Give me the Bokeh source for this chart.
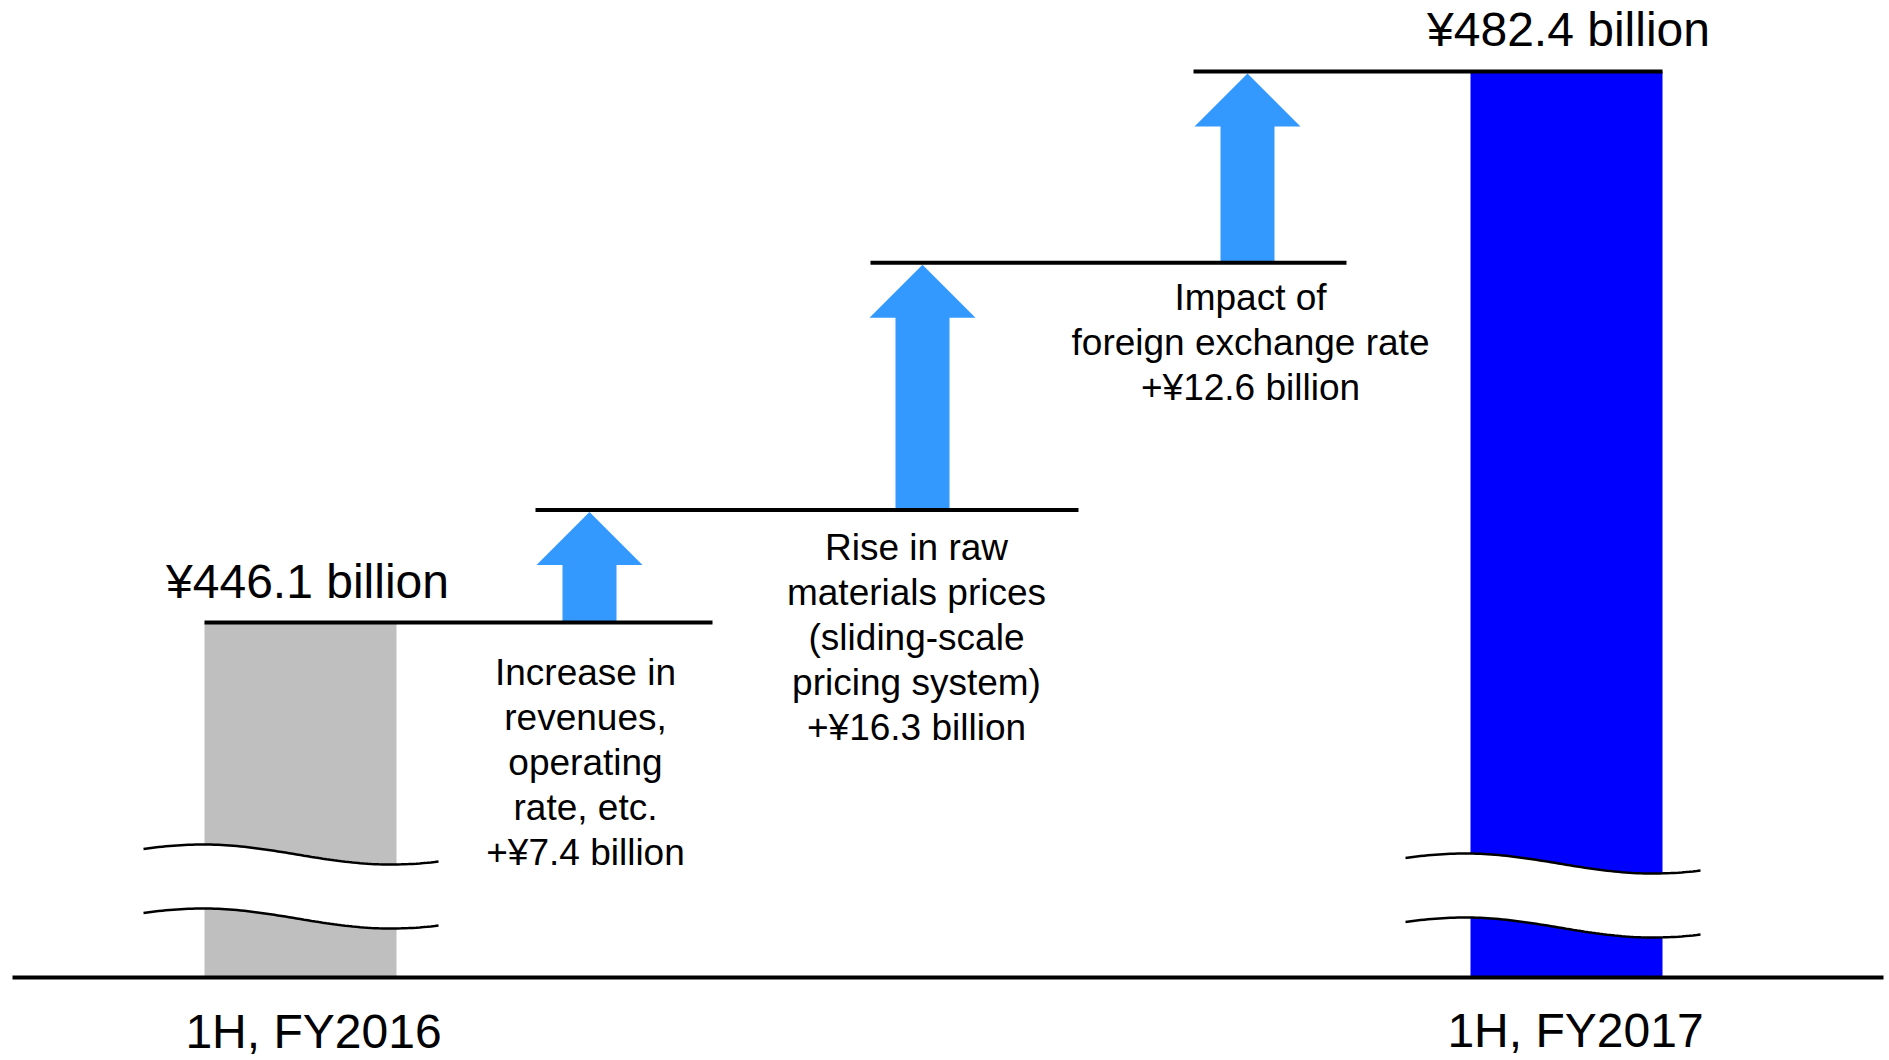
import numpy as np
from bokeh.plotting import figure
from bokeh.models import Range1d
from bokeh.embed import file_html
from bokeh.resources import INLINE
from bokeh.core.properties import value

# ---------------- data ----------------
categories = ["1H, FY2016", "1H, FY2017"]
totals = [446.1, 482.4]
total_labels = ["¥446.1 billion", "¥482.4 billion"]
change_values = [7.4, 16.3, 12.6]
change_labels = [
    ["Increase in", "revenues,", "operating", "rate, etc.", "+¥7.4 billion"],
    ["Rise in raw", "materials prices", "(sliding-scale", "pricing system)", "+¥16.3 billion"],
    ["Impact of", "foreign exchange rate", "+¥12.6 billion"],
]

# ---------------- layout / style ----------------
W, H = 1889, 1060
PPU = 15.18          # pixels per billion yen
BASE = 422.71        # value at the (broken) baseline
BASE_PX = 977        # baseline pixel row from top
FONT = "Liberation Sans"

bar_x = [300, 1566]
bar_w = 192
bar_colors = ["#BFBFBF", "#0000FF"]
total_label_x = [307, 1568]
total_label_gap = [41, 42]
cat_label_x = [313, 1575]
cat_label_gap = [54, 53]   # px below the baseline

arrow_x = [589, 922, 1247]
head_half, shaft_half, head_h = 53, 27, 53
arrow_color = "#3399FF"
text_x = [585, 916, 1250]
text_first_gap = [50, 37, 35]
text_line_h = 45

step_x0 = [204, 535, 870, 1193]
step_x1 = [712, 1078, 1346, 1662]

breaks = [  # x0, x1, mid heights (px above baseline) of the two wavy lines
    (143, 438, 123, 59),
    (1405, 1700, 114, 50),
]


def px(n):
    return n / PPU


levels = [totals[0]]
for c in change_values:
    levels.append(round(levels[-1] + c, 1))

p = figure(width=W, height=H, output_backend="svg", toolbar_location=None,
           x_range=Range1d(0, W),
           y_range=Range1d(BASE - px(H - BASE_PX), BASE + px(BASE_PX)),
           min_border=0, outline_line_color=None,
           x_axis_location=None, y_axis_location=None)
p.grid.visible = False
p.background_fill_color = "white"
p.border_fill_color = "white"

# bars
p.vbar(x=bar_x, width=bar_w, bottom=BASE, top=totals, fill_color=bar_colors,
       line_color=None)

# arrows
xs, ys = [], []
for i, cx in enumerate(arrow_x):
    lo = levels[i]
    tip = levels[i + 1] - px(2)
    hb = tip - px(head_h)
    xs.append([cx - shaft_half, cx + shaft_half, cx + shaft_half, cx + head_half,
               cx, cx - head_half, cx - shaft_half])
    ys.append([lo, lo, hb, hb, tip, hb, hb])
p.patches(xs, ys, fill_color=arrow_color, line_color=None)

# step lines
p.segment(x0=step_x0, x1=step_x1, y0=levels, y1=levels, line_color="black",
          line_width=4)

# axis baseline
p.segment(x0=[12], x1=[1883], y0=[BASE], y1=[BASE], line_color="black", line_width=4)

# break marks
for x0, x1, m1, m2 in breaks:
    t = np.linspace(0, 1, 80)
    wx = x0 + (x1 - x0) * t
    shape = 10 * np.cos(np.pi * (t - 0.2) / 0.64)
    y1 = BASE + px(m1 + shape)
    y2 = BASE + px(m2 + shape)
    p.patch(list(wx) + list(wx[::-1]), list(y1) + list(y2[::-1]),
            fill_color="white", line_color=None)
    p.line(wx, y1, line_color="black", line_width=2.5)
    p.line(wx, y2, line_color="black", line_width=2.5)

# total labels
p.text(x=total_label_x, y=[v + px(g) for v, g in zip(totals, total_label_gap)],
       text=total_labels, text_align="center", text_baseline="alphabetic",
       text_font=value(FONT), text_font_size="48px", text_color="black")

# category labels
p.text(x=cat_label_x, y=[BASE - px(g) for g in cat_label_gap], text=categories,
       text_align="center", text_baseline="alphabetic",
       text_font=value(FONT), text_font_size="48px", text_color="black")

# change annotations
tx, ty, tt = [], [], []
for i, lines in enumerate(change_labels):
    for j, line in enumerate(lines):
        tx.append(text_x[i])
        ty.append(levels[i] - px(text_first_gap[i] + j * text_line_h))
        tt.append(line)
p.text(x=tx, y=ty, text=tt, text_align="center", text_baseline="alphabetic",
       text_font=value(FONT), text_font_size="37px", text_color="black")

open("out.html", "w").write(file_html(p, INLINE))
